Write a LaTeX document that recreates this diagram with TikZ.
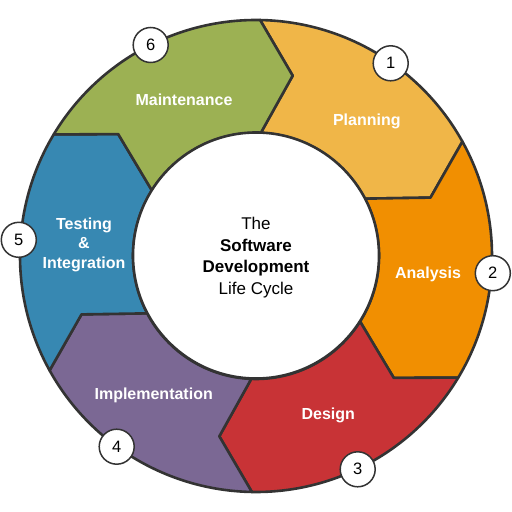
\documentclass[tikz,border=0pt]{standalone}
\usepackage{fontspec}
\setmainfont{Liberation Sans}
\definecolor{cPlan}{HTML}{F0B648}
\definecolor{cAna}{HTML}{F18F01}
\definecolor{cDes}{HTML}{C83336}
\definecolor{cImp}{HTML}{7B6894}
\definecolor{cTest}{HTML}{3788B2}
\definecolor{cMain}{HTML}{9CB153}
\definecolor{edge}{HTML}{333333}
\begin{document}
\begin{tikzpicture}[x=1pt,y=1pt,
  seg/.style={draw=edge, line width=2.6pt, line join=round},
  lbl/.style={text=white, font=\fontsize{16}{19.5}\selectfont\bfseries, align=center, inner sep=0pt},
  num/.style={circle, draw=edge, line width=1.5pt, fill=white, minimum size=35pt, inner sep=0pt, font=\fontsize{16.5}{16.5}\selectfont},
  hub/.style={circle, draw=edge, line width=2.6pt, fill=white, minimum size=246pt, inner sep=0pt},
  hubtext/.style={align=center, inner sep=0pt, text=black, font=\fontsize{17}{21.5}\selectfont}]
\useasboundingbox (0,0) rectangle (512,512);
\begin{scope}[shift={(256,256)}]
\def\Ro{236}\def\Ri{123}\def\Rt{184}
\foreach \k/\c in {0/cPlan,1/cAna,2/cDes,3/cImp,4/cTest,5/cMain}{
  \pgfmathsetmacro\a{89-60*\k}
  \pgfmathsetmacro\b{\a-60}
  \pgfmathsetmacro\ai{\a-1.2}
  \pgfmathsetmacro\bi{\b-1.2}
  \pgfmathsetmacro\at{\a-10.5}
  \pgfmathsetmacro\bt{\b-10.5}
  \path[seg, fill=\c] (\a:\Ro) arc[start angle=\a, end angle=\b, radius=\Ro]
    -- (\bt:\Rt) -- (\bi:\Ri) arc[start angle=\bi, end angle=\ai, radius=\Ri]
    -- (\at:\Rt) -- cycle;
}
\node[hub] (hub) at (0,0.5) {};
\node[hubtext] (title) at (0,-1.5) {The\\\textbf{Software}\\\textbf{Development}\\Life Cycle};
\end{scope}
\node[lbl, anchor=base] (plan) at (366.8,386.7) {Planning};
\node[lbl, anchor=base] (ana) at (428,233.7) {Analysis};
\node[lbl, anchor=base] (des) at (328.3,92.7) {Design};
\node[lbl, anchor=base] (imp) at (153.7,112) {Implementation};
\node[lbl] (test) at (84,267.3) {Testing\\\&\\Integration};
\node[lbl, anchor=base] (main) at (184,406) {Maintenance};
\node[num] (n1) at (390.7,448.7) {1};
\node[num] (n2) at (492.8,238.8) {2};
\node[num] (n3) at (357.7,42.7) {3};
\node[num] (n4) at (116.7,65.3) {4};
\node[num] (n5) at (18.8,272.2) {5};
\node[num] (n6) at (150.7,467) {6};
\end{tikzpicture}
\end{document}
